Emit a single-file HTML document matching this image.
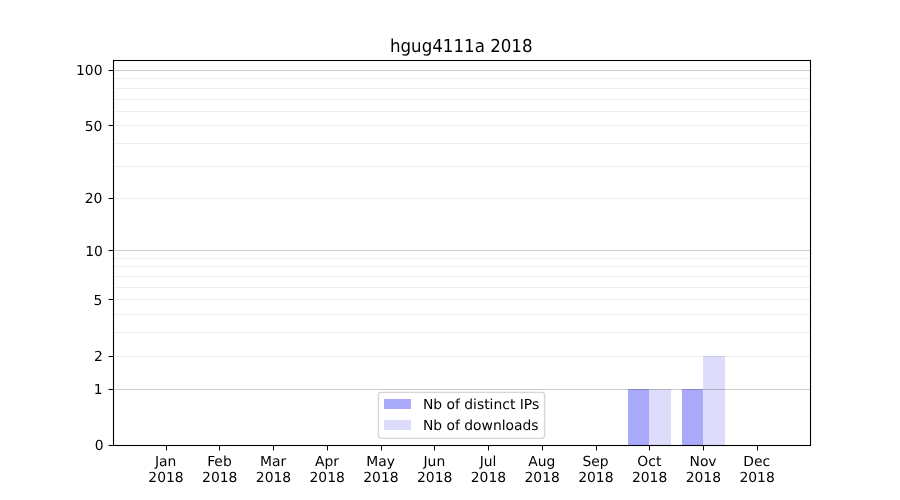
<!DOCTYPE html>
<html><head><meta charset="utf-8"><title>hgug4111a 2018</title>
<style>html,body{margin:0;padding:0;background:#fff;}svg{display:block;will-change:transform;transform:translateZ(0);}text{text-rendering:geometricPrecision;font-family:"DejaVu Sans","Liberation Sans",sans-serif;fill:#000;}</style>
</head><body>
<svg width="900" height="500" viewBox="0 0 900 500">
<rect x="0" y="0" width="900" height="500" fill="#ffffff"/>
<rect x="628" y="389" width="21" height="56" fill="#aaaafa" shape-rendering="crispEdges"/>
<rect x="649" y="389" width="22" height="56" fill="#ddddfb" shape-rendering="crispEdges"/>
<rect x="682" y="389" width="21" height="56" fill="#aaaafa" shape-rendering="crispEdges"/>
<rect x="703" y="356" width="22" height="89" fill="#ddddfb" shape-rendering="crispEdges"/>
<g shape-rendering="crispEdges">
<rect x="113" y="332" width="697" height="1" fill="#000" fill-opacity="0.065"/>
<rect x="113" y="314" width="697" height="1" fill="#000" fill-opacity="0.065"/>
<rect x="113" y="287" width="697" height="1" fill="#000" fill-opacity="0.065"/>
<rect x="113" y="276" width="697" height="1" fill="#000" fill-opacity="0.065"/>
<rect x="113" y="266" width="697" height="1" fill="#000" fill-opacity="0.065"/>
<rect x="113" y="258" width="697" height="1" fill="#000" fill-opacity="0.065"/>
<rect x="113" y="166" width="697" height="1" fill="#000" fill-opacity="0.065"/>
<rect x="113" y="143" width="697" height="1" fill="#000" fill-opacity="0.065"/>
<rect x="113" y="111" width="697" height="1" fill="#000" fill-opacity="0.065"/>
<rect x="113" y="99" width="697" height="1" fill="#000" fill-opacity="0.065"/>
<rect x="113" y="88" width="697" height="1" fill="#000" fill-opacity="0.065"/>
<rect x="113" y="78" width="697" height="1" fill="#000" fill-opacity="0.065"/>
<rect x="113" y="356" width="697" height="1" fill="#000" fill-opacity="0.065"/>
<rect x="113" y="299" width="697" height="1" fill="#000" fill-opacity="0.065"/>
<rect x="113" y="198" width="697" height="1" fill="#000" fill-opacity="0.065"/>
<rect x="113" y="125" width="697" height="1" fill="#000" fill-opacity="0.065"/>
<rect x="113" y="389" width="697" height="1" fill="#000" fill-opacity="0.2"/>
<rect x="113" y="250" width="697" height="1" fill="#000" fill-opacity="0.2"/>
<rect x="113" y="70" width="697" height="1" fill="#000" fill-opacity="0.2"/>
<rect x="109" y="445" width="4" height="1" fill="#000"/>
<rect x="108" y="445" width="1" height="1" fill="#000" fill-opacity="0.45"/>
<rect x="109" y="389" width="4" height="1" fill="#000"/>
<rect x="108" y="389" width="1" height="1" fill="#000" fill-opacity="0.45"/>
<rect x="109" y="356" width="4" height="1" fill="#000"/>
<rect x="108" y="356" width="1" height="1" fill="#000" fill-opacity="0.45"/>
<rect x="109" y="299" width="4" height="1" fill="#000"/>
<rect x="108" y="299" width="1" height="1" fill="#000" fill-opacity="0.45"/>
<rect x="109" y="250" width="4" height="1" fill="#000"/>
<rect x="108" y="250" width="1" height="1" fill="#000" fill-opacity="0.45"/>
<rect x="109" y="198" width="4" height="1" fill="#000"/>
<rect x="108" y="198" width="1" height="1" fill="#000" fill-opacity="0.45"/>
<rect x="109" y="125" width="4" height="1" fill="#000"/>
<rect x="108" y="125" width="1" height="1" fill="#000" fill-opacity="0.45"/>
<rect x="109" y="70" width="4" height="1" fill="#000"/>
<rect x="108" y="70" width="1" height="1" fill="#000" fill-opacity="0.45"/>
<rect x="166" y="445" width="1" height="5" fill="#000"/>
<rect x="166" y="450" width="1" height="1" fill="#000" fill-opacity="0.45"/>
<rect x="219" y="445" width="1" height="5" fill="#000"/>
<rect x="219" y="450" width="1" height="1" fill="#000" fill-opacity="0.45"/>
<rect x="273" y="445" width="1" height="5" fill="#000"/>
<rect x="273" y="450" width="1" height="1" fill="#000" fill-opacity="0.45"/>
<rect x="327" y="445" width="1" height="5" fill="#000"/>
<rect x="327" y="450" width="1" height="1" fill="#000" fill-opacity="0.45"/>
<rect x="381" y="445" width="1" height="5" fill="#000"/>
<rect x="381" y="450" width="1" height="1" fill="#000" fill-opacity="0.45"/>
<rect x="434" y="445" width="1" height="5" fill="#000"/>
<rect x="434" y="450" width="1" height="1" fill="#000" fill-opacity="0.45"/>
<rect x="488" y="445" width="1" height="5" fill="#000"/>
<rect x="488" y="450" width="1" height="1" fill="#000" fill-opacity="0.45"/>
<rect x="542" y="445" width="1" height="5" fill="#000"/>
<rect x="542" y="450" width="1" height="1" fill="#000" fill-opacity="0.45"/>
<rect x="596" y="445" width="1" height="5" fill="#000"/>
<rect x="596" y="450" width="1" height="1" fill="#000" fill-opacity="0.45"/>
<rect x="649" y="445" width="1" height="5" fill="#000"/>
<rect x="649" y="450" width="1" height="1" fill="#000" fill-opacity="0.45"/>
<rect x="703" y="445" width="1" height="5" fill="#000"/>
<rect x="703" y="450" width="1" height="1" fill="#000" fill-opacity="0.45"/>
<rect x="757" y="445" width="1" height="5" fill="#000"/>
<rect x="757" y="450" width="1" height="1" fill="#000" fill-opacity="0.45"/>
<rect x="113" y="60" width="1" height="386" fill="#000"/>
<rect x="810" y="60" width="1" height="386" fill="#000"/>
<rect x="113" y="60" width="698" height="1" fill="#000"/>
<rect x="113" y="445" width="698" height="1" fill="#000"/>
<rect x="112" y="60" width="1" height="386" fill="#000" fill-opacity="0.05"/>
<rect x="114" y="60" width="1" height="386" fill="#000" fill-opacity="0.05"/>
<rect x="809" y="60" width="1" height="386" fill="#000" fill-opacity="0.05"/>
<rect x="811" y="60" width="1" height="386" fill="#000" fill-opacity="0.05"/>
<rect x="113" y="59" width="698" height="1" fill="#000" fill-opacity="0.05"/>
<rect x="113" y="61" width="698" height="1" fill="#000" fill-opacity="0.05"/>
<rect x="113" y="444" width="698" height="1" fill="#000" fill-opacity="0.05"/>
<rect x="113" y="446" width="698" height="1" fill="#000" fill-opacity="0.05"/>
</g>
<text x="103.7" y="450.2" font-size="13.889" text-anchor="end">0</text>
<text x="102.5" y="394.2" font-size="13.889" text-anchor="end">1</text>
<text x="102.8" y="361.2" font-size="13.889" text-anchor="end">2</text>
<text x="102.4" y="305.2" font-size="13.889" text-anchor="end">5</text>
<text x="102.8" y="256.2" font-size="13.889" text-anchor="end">10</text>
<text x="102.4" y="203.2" font-size="13.889" text-anchor="end">20</text>
<text x="102.3" y="131.2" font-size="13.889" text-anchor="end">50</text>
<text x="102.5" y="75.2" font-size="13.889" text-anchor="end">100</text>
<text x="165.70" y="466.3" font-size="13.889" text-anchor="middle">Jan</text>
<text x="166.00" y="481.9" font-size="13.889" text-anchor="middle">2018</text>
<text x="219.44" y="466.3" font-size="13.889" text-anchor="middle">Feb</text>
<text x="219.74" y="481.9" font-size="13.889" text-anchor="middle">2018</text>
<text x="273.17" y="466.3" font-size="13.889" text-anchor="middle">Mar</text>
<text x="273.47" y="481.9" font-size="13.889" text-anchor="middle">2018</text>
<text x="326.91" y="466.3" font-size="13.889" text-anchor="middle">Apr</text>
<text x="327.21" y="481.9" font-size="13.889" text-anchor="middle">2018</text>
<text x="380.65" y="466.3" font-size="13.889" text-anchor="middle">May</text>
<text x="380.95" y="481.9" font-size="13.889" text-anchor="middle">2018</text>
<text x="434.38" y="466.3" font-size="13.889" text-anchor="middle">Jun</text>
<text x="434.68" y="481.9" font-size="13.889" text-anchor="middle">2018</text>
<text x="488.12" y="466.3" font-size="13.889" text-anchor="middle">Jul</text>
<text x="488.42" y="481.9" font-size="13.889" text-anchor="middle">2018</text>
<text x="541.85" y="466.3" font-size="13.889" text-anchor="middle">Aug</text>
<text x="542.15" y="481.9" font-size="13.889" text-anchor="middle">2018</text>
<text x="595.59" y="466.3" font-size="13.889" text-anchor="middle">Sep</text>
<text x="595.89" y="481.9" font-size="13.889" text-anchor="middle">2018</text>
<text x="649.33" y="466.3" font-size="13.889" text-anchor="middle">Oct</text>
<text x="649.63" y="481.9" font-size="13.889" text-anchor="middle">2018</text>
<text x="703.06" y="466.3" font-size="13.889" text-anchor="middle">Nov</text>
<text x="703.36" y="481.9" font-size="13.889" text-anchor="middle">2018</text>
<text x="756.80" y="466.3" font-size="13.889" text-anchor="middle">Dec</text>
<text x="757.10" y="481.9" font-size="13.889" text-anchor="middle">2018</text>
<text transform="translate(461.25,51.7) scale(1,1.07)" x="0" y="0" font-size="16.667" text-anchor="middle">hgug4111a 2018</text>
<rect x="378.4" y="392.4" width="166.2" height="46" rx="2.8" ry="2.8" fill="#ffffff" fill-opacity="0.8" stroke="#cccccc" stroke-opacity="0.8" stroke-width="1.39"/>
<rect x="384" y="399" width="27" height="10" fill="#aaaafa"/>
<rect x="384" y="420" width="27" height="10" fill="#ddddfb"/>
<text x="422.9" y="409.1" font-size="13.889">Nb of distinct IPs</text>
<text x="422.9" y="430.2" font-size="13.889">Nb of downloads</text>
</svg>
</body></html>
